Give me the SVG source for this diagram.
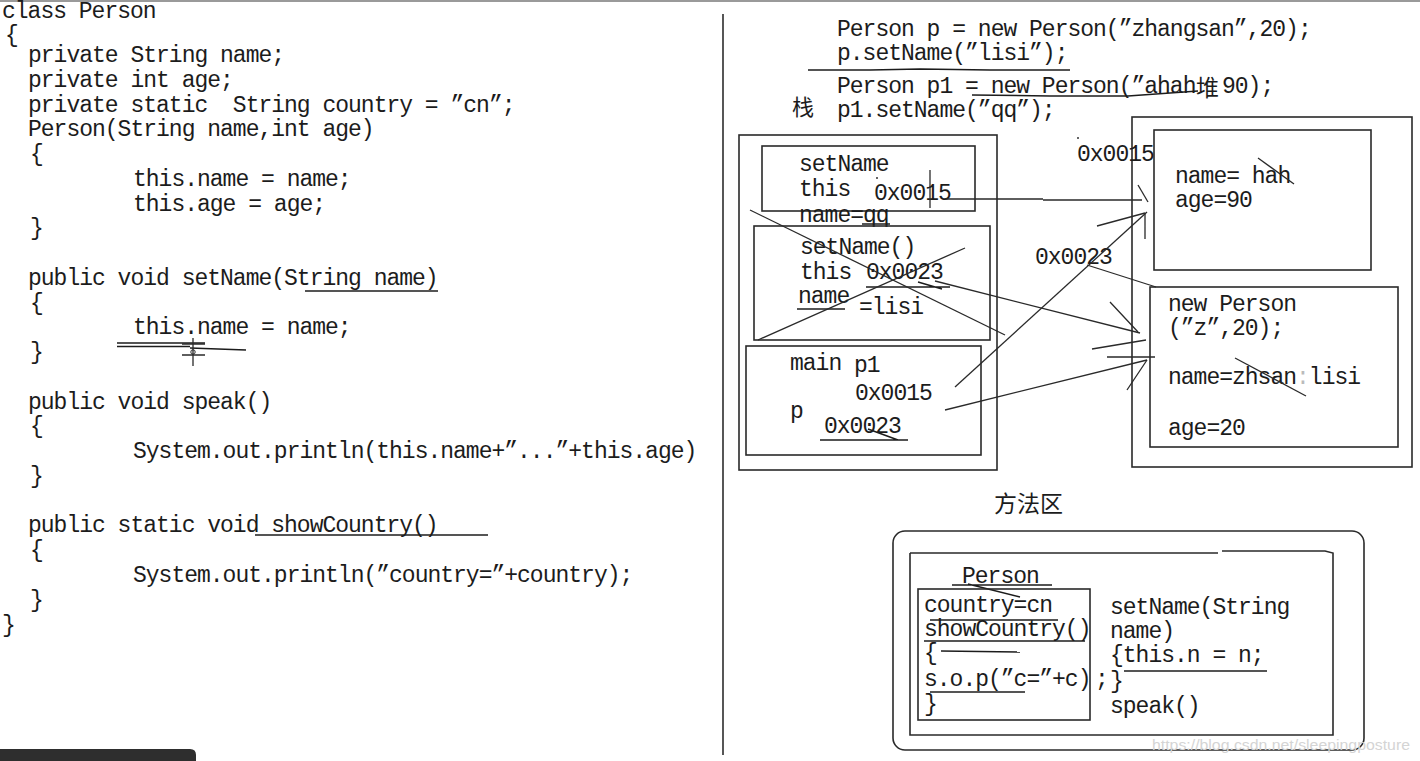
<svg xmlns="http://www.w3.org/2000/svg" width="1420" height="761" viewBox="0 0 1420 761">
<style>
.c{font-family:"Liberation Mono","Noto Sans CJK SC",monospace;font-size:23px;letter-spacing:-1px;fill:#1c1c1c}
.z{font-family:"Noto Sans CJK SC",sans-serif;font-size:22px;fill:#1c1c1c}
.b{fill:none;stroke:#2a2a2a;stroke-width:1.6}
.l{fill:none;stroke:#2a2a2a;stroke-width:1.3}
.u{fill:none;stroke:#1c1c1c;stroke-width:1.5}
.wm{font-family:"Liberation Sans",sans-serif;font-size:15px;fill:#d4d4d4}
</style>
<rect x="0" y="0" width="1420" height="761" fill="#ffffff"/>
<line x1="0" y1="1" x2="1420" y2="1" stroke="#9a9a9a" stroke-width="2"/>
<line x1="723" y1="14" x2="723" y2="755" stroke="#444" stroke-width="1.8"/>
<path d="M0,749 H190 Q196,749 196,755 V761 H0 Z" fill="#2e2e2e"/>

<g id="code">
<text class="c" x="2" y="18">class Person</text>
<text class="c" x="5" y="42">{</text>
<text class="c" x="28" y="62">private String name;</text>
<text class="c" x="28" y="86.8">private int age;</text>
<text class="c" x="28" y="111.5" xml:space="preserve">private static  String country = ”cn”;</text>
<text class="c" x="28" y="136.3">Person(String name,int age)</text>
<text class="c" x="30" y="161">{</text>
<text class="c" x="133" y="185.8">this.name = name;</text>
<text class="c" x="133" y="210.6">this.age = age;</text>
<text class="c" x="30" y="235.3">}</text>
<text class="c" x="28" y="284.8">public void setName(String name)</text>
<text class="c" x="30" y="309.6">{</text>
<text class="c" x="133" y="334.4">this.name = name;</text>
<text class="c" x="30" y="359">}</text>
<text class="c" x="28" y="408.6">public void speak()</text>
<text class="c" x="30" y="433.4">{</text>
<text class="c" x="133" y="458">System.out.println(this.name+”...”+this.age)</text>
<text class="c" x="30" y="482.9">}</text>
<text class="c" x="28" y="532.4">public static void  showCountry()</text>
<text class="c" x="30" y="557">{</text>
<text class="c" x="133" y="582">System.out.println(”country=”+country);</text>
<text class="c" x="30" y="606.8">}</text>
<text class="c" x="2" y="631.5">}</text>
<line class="u" x1="305" y1="291" x2="438" y2="291" stroke-width="2.2"/>
<path class="u" d="M117,343 H205 M117,346.5 H190 M190,348 L246,350"/>
<path class="l" d="M193,338 V366 M182,344 H205 M182,355 H205"/>
<circle cx="193" cy="352" r="2.2" fill="none" stroke="#2a2a2a" stroke-width="1"/>
<line class="u" x1="255" y1="535" x2="488" y2="535"/>
</g>

<g id="main-code">
<text class="c" x="837" y="36">Person p = new Person(”zhangsan”,20);</text>
<text class="c" x="837" y="60">p.setName(”lisi”);</text>
<text class="c" x="837" y="93">Person p1 = new Person(”ahah</text>
<text class="z" x="1196" y="96" style="font-size:23px">堆</text>
<text class="c" x="1222" y="93">90);</text>
<text class="z" x="792" y="115">栈</text>
<text class="c" x="837" y="117">p1.setName(”qq”);</text>
<path class="u" d="M808,70 L870,70 L920,69 L990,70 L1070,70"/>
<path class="u" d="M972,95 L1050,96 L1128,96 L1198,91"/>
</g>

<g id="stack">
<rect class="b" x="739" y="135" width="258" height="335"/>
<g id="frame-setName-qq">
<rect class="b" x="762" y="146" width="213" height="65"/>
<text class="c" x="799" y="171">setName</text>
<text class="c" x="799" y="196">this</text>
<text class="c" x="874" y="200">0x0015</text>
<circle cx="877" cy="178" r="1" fill="#333"/>
<line class="l" x1="930" y1="170" x2="930" y2="208" stroke-width="1.8"/>
<text class="c" x="799" y="222">name=qq</text>
<line class="u" x1="862" y1="224" x2="890" y2="224"/>
</g>
<g id="frame-setName-lisi">
<rect class="b" x="754" y="226" width="236" height="114"/>
<text class="c" x="800" y="254">setName()</text>
<text class="c" x="800" y="279">this</text>
<text class="c" x="866" y="279">0x0023</text>
<path class="u" d="M866,287 H950 M918,282 L942,289"/>
<text class="c" x="798" y="303">name</text>
<line class="u" x1="797" y1="309" x2="845" y2="309"/>
<text class="c" x="859" y="314">=lisi</text>
</g>
<g id="frame-main">
<rect class="b" x="746" y="346" width="235" height="109"/>
<text class="c" x="790" y="370">main</text>
<text class="c" x="854" y="372">p1</text>
<text class="c" x="855" y="400">0x0015</text>
<text class="c" x="790" y="418">p</text>
<text class="c" x="824" y="433">0x0023</text>
<path class="u" d="M820,440 H908 M868,429 L898,440"/>
</g>
</g>

<g id="heap">
<rect class="b" x="1132" y="117" width="280" height="350"/>
<text class="c" x="1077" y="161">0x0015</text>
<circle cx="1078" cy="138" r="1" fill="#333"/>
<text class="c" x="1035" y="264">0x0023</text>
<g id="obj-0x0015">
<rect class="b" x="1154" y="130" width="217" height="140"/>
<text class="c" x="1175" y="183" xml:space="preserve">name= hah</text>
<text class="c" x="1175" y="207">age=90</text>
<line class="l" x1="1258" y1="158" x2="1294" y2="184"/>
</g>
<g id="obj-0x0023">
<rect class="b" x="1150" y="287" width="248" height="160"/>
<text class="c" x="1168" y="311">new Person</text>
<text class="c" x="1168" y="335">(”z”,20);</text>
<text class="c" x="1168" y="384">name=zhsan<tspan fill="#bbbbbb">:</tspan>lisi</text>
<line class="l" x1="1235" y1="358" x2="1306" y2="396"/>
<text class="c" x="1168" y="435">age=20</text>
</g>
</g>

<g id="method-area">
<text class="z" x="994" y="512" style="font-size:23px">方法区</text>
<rect class="b" x="893" y="531" width="471" height="219" rx="12"/>
<path class="b" d="M910,553 H1218 M1222,551 H1325 L1333,553 V735 H910 V553"/>
<text class="c" x="962" y="583">Person</text>
<path class="u" d="M952,585 H1052 M968,584 L1020,597"/>
<g id="class-static">
<rect class="b" x="918" y="589" width="172" height="131"/>
<text class="c" x="924" y="612">country=cn</text>
<line class="u" x1="930" y1="620" x2="1058" y2="620"/>
<text class="c" x="924" y="636">showCountry()</text>
<line class="u" x1="924" y1="641" x2="1085" y2="641"/>
<text class="c" x="924" y="660">{</text>
<line class="u" x1="941" y1="651" x2="1020" y2="652"/>
<text class="c" x="924" y="686">s.o.p(”c=”+c)</text>
<line class="u" x1="930" y1="692" x2="1025" y2="692"/>
<text class="c" x="924" y="711">}</text>
</g>
<text class="c" x="1095" y="686">;</text>
<text class="c" x="1110" y="688">}</text>
<text class="c" x="1110" y="614">setName(String</text>
<text class="c" x="1110" y="638">name)</text>
<text class="c" x="1110" y="662">{this.n = n;</text>
<line class="u" x1="1124" y1="671" x2="1267" y2="671"/>
<text class="c" x="1110" y="713">speak()</text>
</g>

<g id="connectors">
<path class="l" d="M945,199 H1043 M1043,200 H1142"/>
<line class="l" x1="1138" y1="185" x2="1148" y2="202"/>
<line class="l" x1="955" y1="387" x2="1147" y2="212"/>
<path class="l" d="M1097,226 L1145,213 M1145,239 V214"/>
<line class="l" x1="750" y1="210" x2="1005" y2="335"/>
<line class="l" x1="758" y1="340" x2="965" y2="248"/>
<line class="l" x1="935" y1="281" x2="1140" y2="333"/>
<path class="l" d="M1110,302 L1138,332 M1092,349 L1146,340"/>
<line class="l" x1="1087" y1="265" x2="1156" y2="287"/>
<line class="l" x1="945" y1="410" x2="1147" y2="360"/>
<path class="l" d="M1127,390 L1147,360 M1107,357 H1155"/>
</g>

<text class="wm" x="1152" y="750" textLength="258" lengthAdjust="spacingAndGlyphs">https://blog.csdn.net/sleepingposture</text>
</svg>
